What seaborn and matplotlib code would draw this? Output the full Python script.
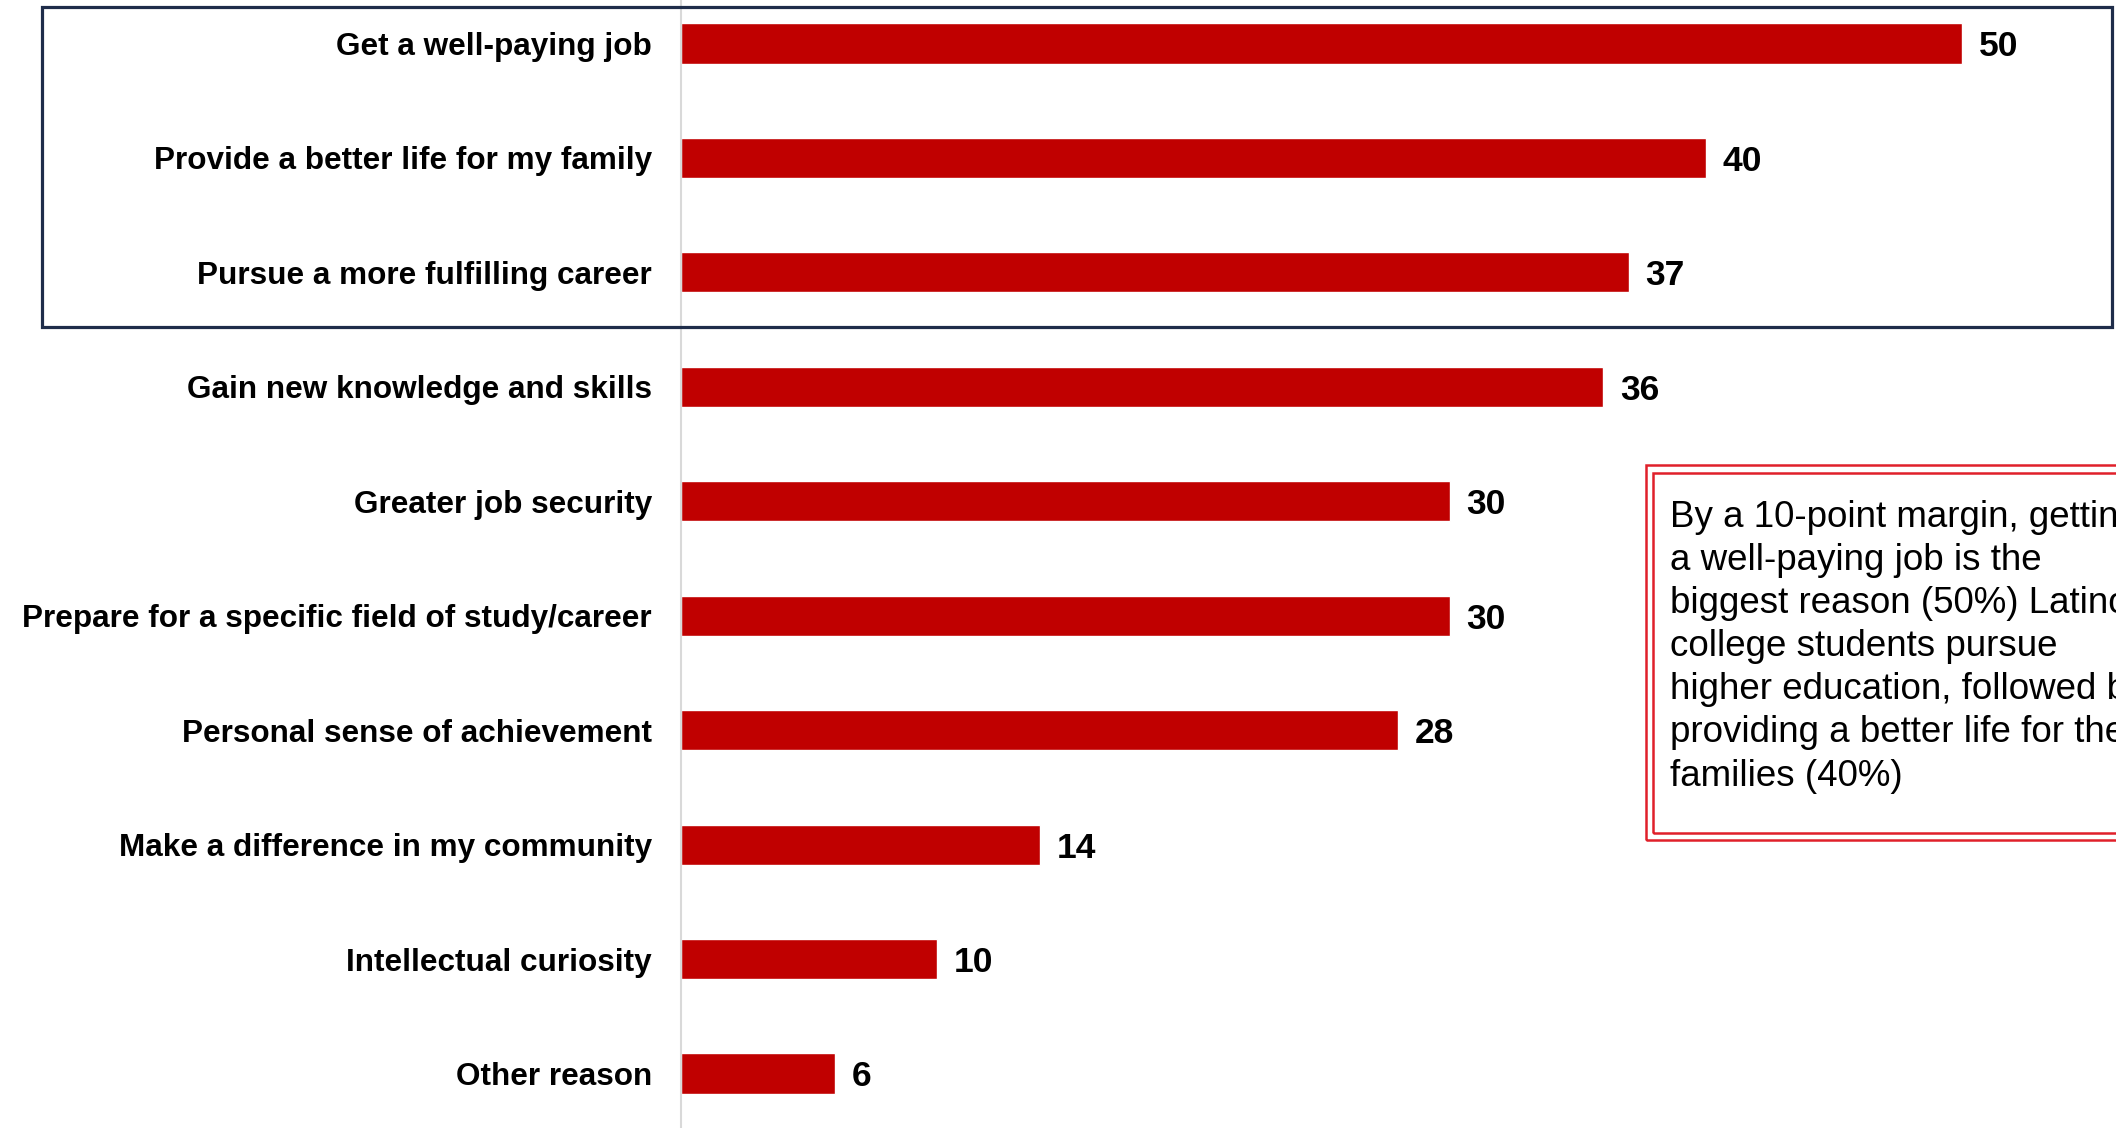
import matplotlib
matplotlib.use("Agg")
import matplotlib.pyplot as plt
import seaborn as sns
import pandas as pd
from matplotlib.patches import Rectangle

# dados
reasons = [
    "Get a well-paying job",
    "Provide a better life for my family",
    "Pursue a more fulfilling career",
    "Gain new knowledge and skills",
    "Greater job security",
    "Prepare for a specific field of study/career",
    "Personal sense of achievement",
    "Make a difference in my community",
    "Intellectual curiosity",
    "Other reason",
]
pct = [50, 40, 37, 36, 30, 30, 28, 14, 10, 6]
note = ("By a 10-point margin, getting\n"
        "a well-paying job is the\n"
        "biggest reason (50%) Latino\n"
        "college students pursue\n"
        "higher education, followed by\n"
        "providing a better life for their\n"
        "families (40%)")

df = pd.DataFrame({"reason": reasons, "pct": pct})

W, H = 2116, 1128
sns.set_style("white")
plt.rcParams["font.family"] = ["Liberation Sans", "DejaVu Sans"]
plt.rcParams["text.color"] = "black"
plt.rcParams["ytick.color"] = "black"

fig = plt.figure(figsize=(W / 100, H / 100), dpi=100)
ax = fig.add_axes([681 / W, 0, (W - 681) / W, 1])

sns.barplot(data=df, x="pct", y="reason", orient="h", color="#C00000",
            saturation=1, width=0.35, ax=ax)

ax.set_xlim(0, (W - 681) / 25.62)
ax.set_ylim(9.476, -0.38)
ax.set_xlabel("")
ax.set_ylabel("")
ax.set_xticks([])
for s in ["top", "right", "bottom"]:
    ax.spines[s].set_visible(False)
ax.spines["left"].set_color("#D9D9D9")
ax.spines["left"].set_linewidth(1.5)
ax.tick_params(axis="y", length=0, pad=21, labelsize=22.7, labelcolor="black")
for lbl in ax.get_yticklabels():
    lbl.set_fontweight("bold")

for i, v in enumerate(pct):
    ax.text(v + 0.65, i + 0.03, str(v), va="center", ha="left",
            fontsize=25.5, fontweight="bold", color="black")


def px_rect(x0, y0, x1, y1, **kw):
    # coordenadas em pixels (origem no topo)
    r = Rectangle((x0 / W, 1 - y1 / H), (x1 - x0) / W, (y1 - y0) / H,
                  transform=fig.transFigure, fill=False, **kw)
    fig.add_artist(r)


# caixa destacando os 3 primeiros
px_rect(42, 7, 2112, 327, edgecolor="#1F2D4A", linewidth=2.3)

# caixa de texto com borda dupla vermelha
px_rect(1646, 465, 2200, 840, edgecolor="#E0202A", linewidth=1.8)
px_rect(1653, 473, 2200, 833, edgecolor="#E0202A", linewidth=1.8)
fig.text(1670 / W, 1 - 500 / H, note, ha="left", va="top",
         fontsize=26.5, linespacing=1.30, color="black")

fig.savefig("out.png", dpi=100)
